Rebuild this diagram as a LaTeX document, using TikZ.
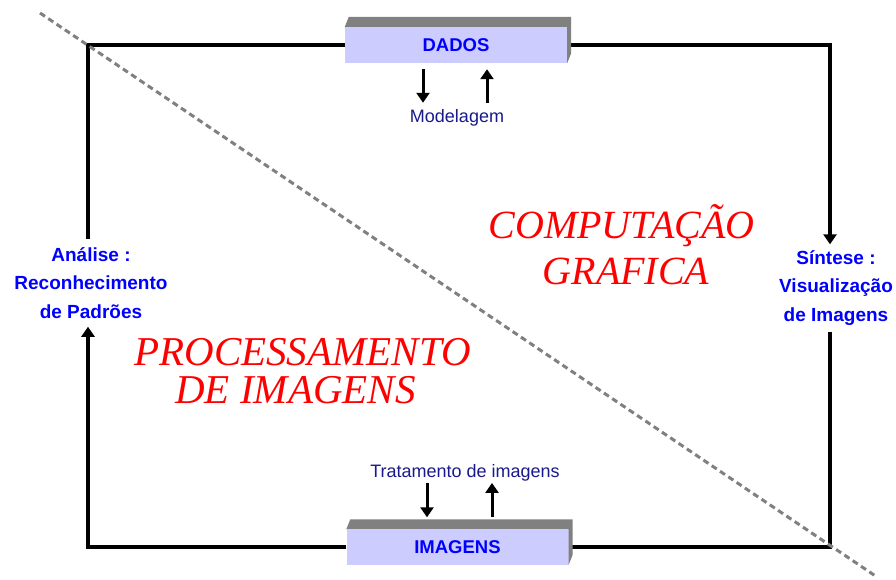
\documentclass[tikz,border=0pt]{standalone}
\usepackage{fontspec}
\setmainfont{Liberation Sans}
\newfontfamily\titlefont{Liberation Serif}
\usetikzlibrary{arrows.meta}
\definecolor{boxfill}{RGB}{204,204,255}
\definecolor{bevelgray}{RGB}{128,128,128}
\definecolor{navy}{RGB}{25,25,140}
\definecolor{pureblue}{RGB}{0,0,255}
\definecolor{purered}{RGB}{255,0,0}

\begin{document}
\begin{tikzpicture}[x=1pt, y=-1pt,
    box/.style = {rectangle, fill=boxfill, minimum width=222pt,
      minimum height=36pt, inner sep=0pt, text=pureblue,
      font=\fontsize{18.5}{20}\selectfont\bfseries},
    side/.style = {text=pureblue, align=center,
      font=\fontsize{19}{28.5}\selectfont\bfseries},
    note/.style = {text=navy, inner sep=2pt, anchor=base,
      font=\fontsize{18}{20}\selectfont},
    big/.style = {text=purered, anchor=base,
      font=\titlefont\itshape\fontsize{40}{46}\selectfont},
    frame/.style = {line width=4pt},
    ptr/.style = {-{Triangle[width=13pt,length=10pt]}},
    arr/.style = {line width=3pt, ptr}]
  \useasboundingbox (0,0) rectangle (896,579);
  \node[box] (dados) at (456,45) {DADOS};
  \node[box, minimum height=35pt] (imagens) at (457.5,547) {IMAGENS};
  \node[note] (modelagem) at (457,122) {Modelagem};
  \node[note] (tratamento) at (465,477) {Tratamento de imagens};
  \node[side, inner sep=8pt] (analise) at (91,283)
    {Análise :\\Reconhecimento\\de Padrões};
  \node[side, inner sep=6pt] (sintese) at (836,288)
    {Síntese :\\Visualização\\de Imagens};
  \coordinate (tl) at (88,45); \coordinate (tr) at (830,45);
  \coordinate (bl) at (88,547); \coordinate (br) at (830,547);
  \draw[frame] (dados.west) -- (tl) -- (tl |- analise.north);
  \draw[frame, ptr] (dados.east) -- (tr) -- (tr |- sintese.north);
  \draw[frame] (tr |- sintese.south) -- (br) -- (imagens.east);
  \draw[frame, ptr] (imagens.west) -- (bl) -- (bl |- analise.south);
  \foreach \b in {dados, imagens}
  \fill[bevelgray] (\b.north west) -- ++(4,-10)
    -- ([shift={(4,-10)}]\b.north east) -- ([shift={(4,-10)}]\b.south east)
    -- (\b.south east) -- (\b.north east) -- cycle;
  \draw[arr] ([xshift=-33pt, yshift=-6pt]dados.south)
    -- ([xshift=-34pt, yshift=4pt]modelagem.north);
  \draw[arr] ([xshift=30pt, yshift=4pt]modelagem.north)
    -- ([xshift=31pt, yshift=-6pt]dados.south);
  \draw[arr] ([xshift=-38pt]tratamento.south)
    -- ([xshift=-30.5pt, yshift=12pt]imagens.north);
  \draw[arr] ([xshift=34.5pt, yshift=12pt]imagens.north)
    -- ([xshift=27pt]tratamento.south);
  \node[big] (computacao) at (621.5,238) {COMPUTAÇÃO};
  \node[big] (grafica) at (626,284) {GRAFICA};
  \node[big, font=\titlefont\itshape\fontsize{41}{46}\selectfont]
    (processamento) at (302.5,365) {PROCESSAMENTO};
  \node[big, font=\titlefont\itshape\fontsize{41}{46}\selectfont]
    (deimagens) at (295.5,403) {DE IMAGENS};
  \coordinate (d1) at (40,13); \coordinate (d2) at (877,577);
  \draw[bevelgray, line width=3pt, dash pattern=on 6pt off 4pt] (d1) -- (d2);
\end{tikzpicture}
\end{document}
